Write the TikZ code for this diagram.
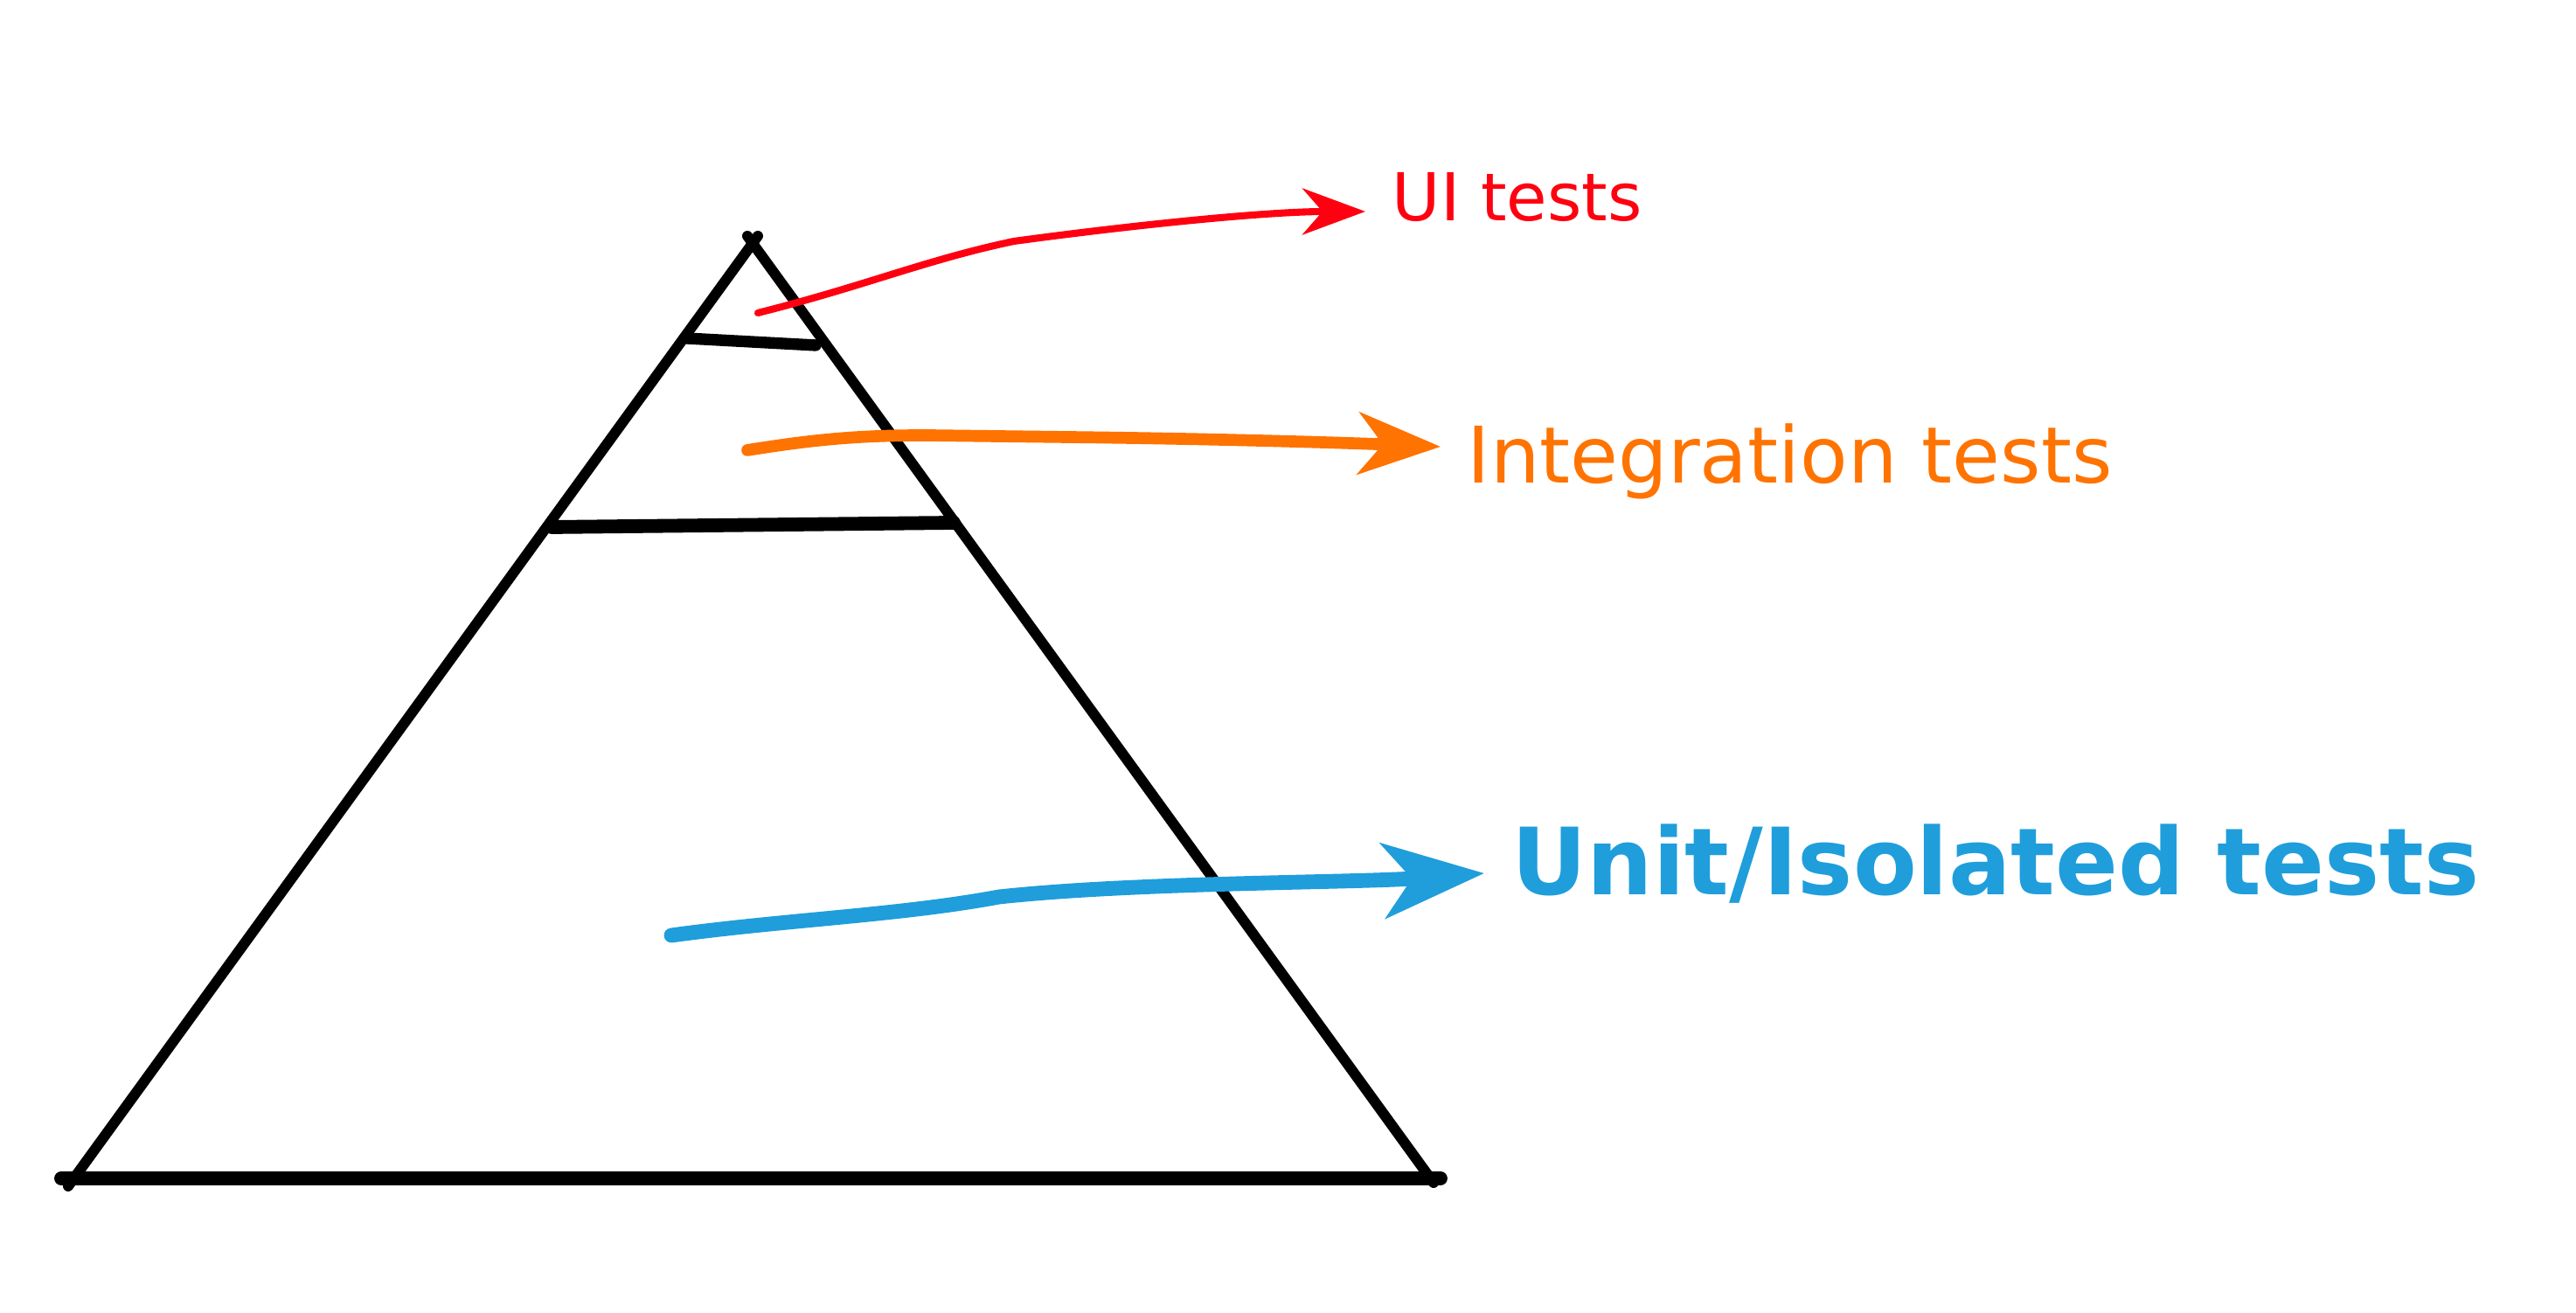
\documentclass[tikz,border=0pt]{standalone}
\usepackage{fontspec}
\setmainfont{DejaVu Sans}
\usetikzlibrary{arrows.meta}

\definecolor{uired}{RGB}{255,0,16}
\definecolor{intorange}{RGB}{255,115,0}
\definecolor{unitblue}{RGB}{31,158,219}

\begin{document}
\begin{tikzpicture}[line cap=round, line join=round]
    \useasboundingbox (0, 0) rectangle (29.47, 15.02);

    \coordinate (A) at (0.78, 1.45);
    \coordinate (B) at (8.67, 12.32);
    \coordinate (B') at (8.55, 12.32);
    \coordinate (C) at (16.40, 1.49);
    \coordinate (L) at (0.70, 1.54);
    \coordinate (R) at (16.48, 1.54);

    \coordinate (E) at (7.85, 11.15);
    \coordinate (F) at (9.33, 11.07);
    \coordinate (G) at (6.31, 8.99);
    \coordinate (H) at (10.91, 9.04);

    \draw [line width=3.4pt] (A) -- (B);
    \draw [line width=3.4pt] (B') -- (C);
    \draw [line width=4.5pt] (L) -- (R);
    \draw [line width=3.8pt] (E) -- (F);
    \draw [line width=4.5pt] (G) -- (H);

    \coordinate (P) at (8.67, 11.44);
    \coordinate (Q) at (8.55, 9.87);
    \coordinate (S) at (7.68, 4.32);

    \coordinate (P') at (15.62, 12.60);
    \coordinate (Q') at (16.48, 9.91);
    \coordinate (S') at (16.98, 5.03);

    \node [anchor=base west, inner sep=0, text=uired, font=\fontsize{21.5}{23}\selectfont] (ui) at (15.92, 12.49) {UI tests};
    \node [anchor=base west, inner sep=0, text=intorange, font=\fontsize{25.4}{27}\selectfont] (integ) at (16.78, 9.49) {Integration tests};
    \node [anchor=base west, inner sep=0, text=unitblue, font=\bfseries\fontsize{30.2}{33}\selectfont] (unit) at (17.29, 4.78) {Unit/Isolated tests};

    \draw [uired, line width=2.3pt, -{Stealth[length=0.72cm, width=0.53cm, inset=0.23cm]}]
        (P) .. controls (9.9, 11.75) and (10.6, 12.05) .. (11.60, 12.26)
        .. controls (13.0, 12.45) and (14.5, 12.60) .. (P');
    \draw [intorange, line width=3.9pt, -{Stealth[length=0.94cm, width=0.71cm, inset=0.28cm]}]
        (Q) .. controls (9.3, 9.99) and (9.8, 10.04) .. (10.6, 10.04)
        -- (12.2, 10.02) .. controls (14.0, 10.00) and (15.5, 9.95) .. (Q');
    \draw [unitblue, line width=4.8pt, -{Stealth[length=1.16cm, width=0.86cm, inset=0.33cm]}]
        (S) .. controls (9.0, 4.50) and (10.3, 4.55) .. (11.43, 4.76)
        .. controls (13.0, 4.93) and (15.5, 4.92) .. (S');
\end{tikzpicture}
\end{document}
